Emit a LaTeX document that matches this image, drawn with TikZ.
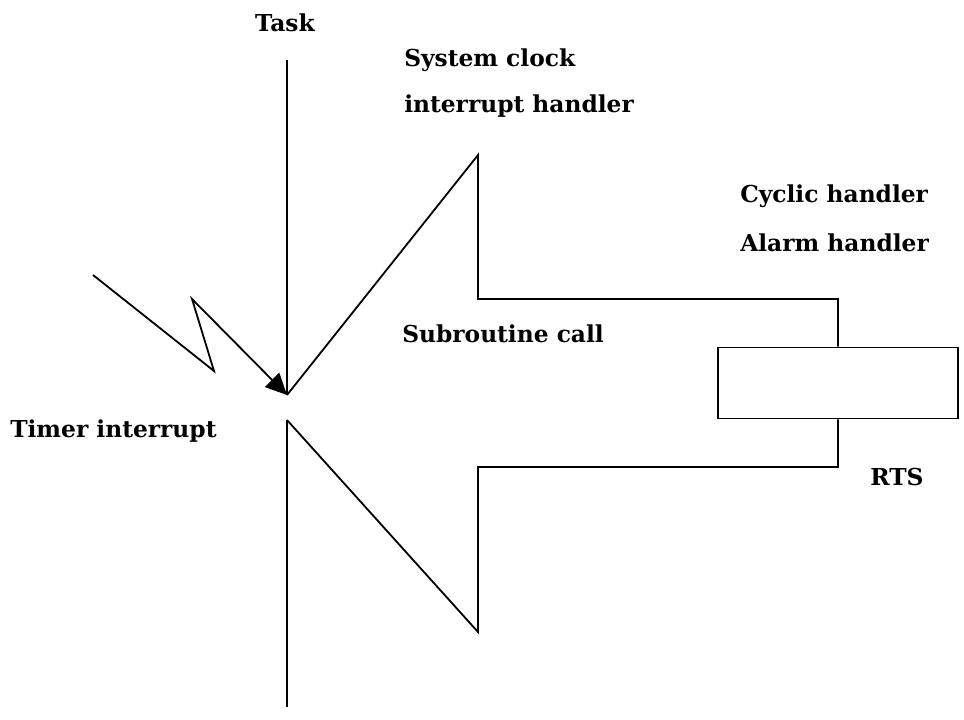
\documentclass[tikz,border=0pt]{standalone}
\usepackage{fontspec}
\setmainfont{DejaVu Serif}
\usetikzlibrary{arrows.meta}
\begin{document}
\begin{tikzpicture}[x=0.75pt,y=-0.75pt,
  ln/.style={line width=1.35pt,line join=miter},
  lbl/.style={anchor=base west,inner sep=0pt,font=\bfseries\fontsize{17.5}{21}\selectfont}]
\useasboundingbox (0,0) rectangle (964,720);
% key points
\coordinate (taskTop) at (287,60);
\coordinate (apex) at (287,395);
\coordinate (lowStart) at (287,420);
\coordinate (taskBot) at (287,707);
\coordinate (upTip) at (478,155);
\coordinate (upIn) at (478,299);
\coordinate (upR) at (838,299);
\coordinate (lowTip) at (478,632);
\coordinate (lowIn) at (478,467);
\coordinate (lowR) at (838,467);
\node[draw,ln,minimum width=240*0.75pt,minimum height=71*0.75pt,inner sep=0pt] (rts) at (838,383) {};
\coordinate (z0) at (93,275);
\coordinate (z1) at (214,371);
\coordinate (z2) at (192,299);
% task line
\draw[ln] (taskTop) -- (apex);
\draw[ln] (lowStart) -- (taskBot);
% upper branch
\draw[ln] (apex) -- (upTip) -- (upIn) -- (upR) -- (rts.north -| upR);
% lower branch
\draw[ln] (lowStart) -- (lowTip) -- (lowIn) -- (lowR) -- (rts.south -| lowR);
% lightning
\draw[ln,-{Triangle[length=16pt,width=15pt]}] (z0) -- (z1) -- (z2) -- (apex);
% labels
\node[anchor=base,inner sep=0pt,font=\bfseries\fontsize{17.5}{21}\selectfont] (task) at (285,32) {Task};
\node[lbl] (sc1) at (404,67) {System clock};
\node[lbl] (sc2) at (404,113) {interrupt handler};
\node[lbl] (cy) at (740,203) {Cyclic handler};
\node[lbl] (al) at (740,252) {Alarm handler};
\node[lbl] (sub) at (402,343) {Subroutine call};
\node[lbl] (tim) at (10,437) {Timer interrupt};
\node[lbl] (rtsl) at (870,485) {RTS};
\end{tikzpicture}
\end{document}
